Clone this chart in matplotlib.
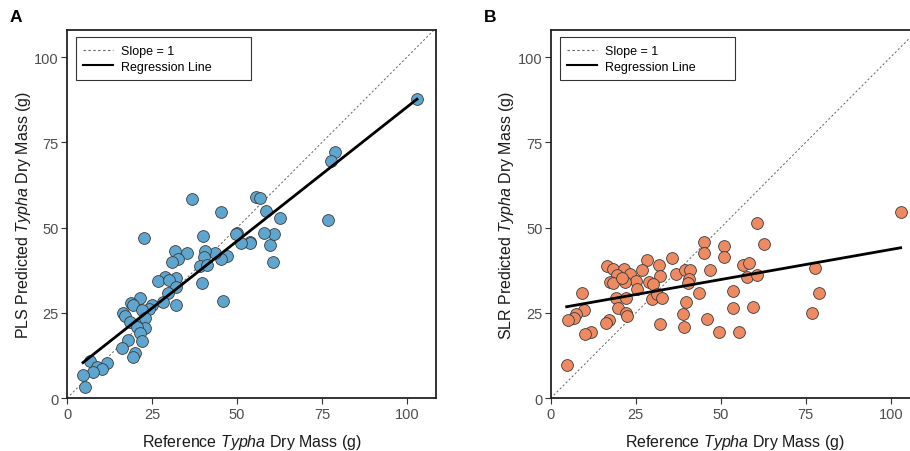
import matplotlib
matplotlib.use("Agg")
import matplotlib.pyplot as plt
import numpy as np
from matplotlib.lines import Line2D

plt.rcParams['font.family'] = ['Liberation Sans', 'DejaVu Sans']
plt.rcParams['mathtext.fontset'] = 'custom'
plt.rcParams['mathtext.rm'] = 'Liberation Sans'
plt.rcParams['mathtext.it'] = 'Liberation Sans:italic'

# ---- Panel A (PLS) data ----
pls_ref = [102.9, 78.8, 77.7, 76.8, 62.7, 60.5, 59.6, 60.8, 57.8, 58.4, 55.7, 56.7,
           53.7, 53.9, 51.3, 50.1, 49.8, 47.1, 45.4, 43.5, 45.9, 45.4, 39.9, 40.7,
           40.3, 39.0, 41.1, 39.7, 36.8, 35.4, 31.7, 32.6, 30.9, 32.0, 28.9, 26.7,
           30.0, 32.0, 29.7, 28.2, 32.0, 25.0, 24.0, 22.7, 21.4, 18.8, 19.5, 22.1,
           16.5, 17.2, 18.4, 21.9, 23.0, 23.0, 20.7, 21.4, 22.1, 17.9, 16.2, 19.9,
           19.4, 6.7, 11.9, 8.9, 10.3, 7.6, 4.7, 5.2]
pls_pred = [87.7, 72.3, 69.6, 52.3, 52.8, 39.9, 44.8, 48.0, 48.4, 55.0, 59.1, 58.6,
            45.9, 45.5, 45.5, 48.5, 48.0, 41.8, 40.9, 42.6, 28.6, 54.5, 47.5, 43.3,
            41.3, 38.9, 39.1, 33.7, 58.3, 42.6, 43.3, 40.9, 39.9, 35.2, 35.6, 34.5,
            34.6, 32.5, 30.8, 28.1, 27.4, 27.4, 26.2, 47.0, 29.3, 28.0, 27.4, 26.0,
            25.0, 24.2, 22.5, 22.3, 23.5, 20.5, 20.8, 19.1, 16.9, 17.1, 14.8, 13.3,
            12.0, 11.0, 10.3, 9.1, 8.6, 7.6, 6.8, 3.4]
pls_fit = (6.77, 0.786)  # intercept, slope

# ---- Panel B (SLR) data ----
slr_ref = [102.9, 60.7, 62.8, 45.2, 45.2, 51.1, 51.0, 35.6, 28.2, 16.5, 26.8, 31.9,
           18.4, 21.6, 23.3, 19.6, 32.1, 36.8, 39.5, 41.0, 46.9, 40.7, 40.5, 56.5,
           58.4, 57.6, 60.6, 77.7, 79.0, 76.8, 53.7, 53.7, 59.4, 55.5, 49.6, 45.9,
           43.5, 39.9, 38.8, 39.2, 32.1, 25.1, 25.3, 28.8, 30.2, 29.7, 31.2, 32.6,
           17.4, 18.2, 21.9, 21.0, 19.1, 22.1, 19.9, 22.1, 22.4, 9.3, 9.9, 7.4,
           6.9, 5.2, 17.2, 16.3, 11.9, 10.1, 4.7]
slr_pred = [54.7, 51.4, 45.2, 45.9, 42.6, 44.5, 41.4, 41.2, 40.6, 38.9, 37.7, 39.2,
            37.9, 37.9, 36.5, 36.2, 35.8, 36.5, 37.7, 37.6, 37.6, 35.0, 33.7, 39.0,
            39.6, 35.5, 36.0, 38.1, 30.8, 24.9, 31.5, 26.4, 26.7, 19.4, 19.4, 23.3,
            30.9, 28.2, 24.7, 20.8, 21.8, 34.5, 32.1, 34.2, 33.5, 29.1, 30.6, 29.4,
            34.0, 33.8, 34.0, 35.2, 29.4, 29.4, 26.5, 25.0, 24.2, 30.8, 26.0, 24.7,
            23.5, 22.8, 23.0, 22.1, 19.4, 18.7, 9.9]
slr_fit = (26.0, 0.176)

ticks = [0, 25, 50, 75, 100]
tick_labels = ["0", "25", "50", "75", "100"]

W, H = 910, 452
fig = plt.figure(figsize=(W / 100, H / 100), dpi=100)

axw = 369 / W
axh = 368.6 / H
bot = (H - 399.3) / H
axA = fig.add_axes([67 / W, bot, axw, axh])
axB = fig.add_axes([550.7 / W, bot, axw, axh])

panels = [
    (axA, pls_ref, pls_pred, pls_fit, '#5ea6cf', 'PLS', 'A', 10),
    (axB, slr_ref, slr_pred, slr_fit, '#ee8a62', 'SLR', 'B', 484),
]

for ax, xr, yp, fit, col, name, letter, lx in panels:
    ax.set_xlim(0, 108.5)
    ax.set_ylim(0, 108)
    xx = np.array([0, 110])
    ax.plot(xx, xx, ls=(0, (2.2, 2.2)), color='#666666', lw=0.7, zorder=1)
    ax.scatter(xr, yp, s=72, facecolor=col, edgecolor='#3a3a3a', linewidths=0.6, zorder=3)
    x0, x1 = min(xr), max(xr)
    fx = np.array([x0, x1])
    ax.plot(fx, fit[0] + fit[1] * fx, color='black', lw=2.0, zorder=4)
    ax.set_xticks(ticks)
    ax.set_xticklabels(tick_labels)
    ax.set_yticks(ticks)
    ax.set_yticklabels(tick_labels)
    ax.tick_params(direction='out', length=4, width=0.8, color='#333333',
                   labelcolor='#4d4d4d', labelsize=10.5, pad=2)
    for sp in ax.spines.values():
        sp.set_linewidth(1.3)
        sp.set_color('#222222')
    ax.set_xlabel(r'Reference $\it{Typha}$ Dry Mass (g)', fontsize=11.5,
                  color='#1a1a1a', labelpad=8)
    ax.set_ylabel(name + r' Predicted $\it{Typha}$ Dry Mass (g)', fontsize=11.5,
                  color='#1a1a1a', labelpad=1)
    handles = [Line2D([], [], ls=(0, (2.2, 2.2)), color='#666666', lw=0.8),
               Line2D([], [], color='black', lw=1.5)]
    leg = ax.legend(handles, ['Slope = 1', 'Regression Line'], loc='upper left',
                    bbox_to_anchor=(0.024, 0.979, 0.475, 0.0), mode='expand',
                    fontsize=9, frameon=True, fancybox=False, handlelength=2.4,
                    handletextpad=0.6, labelspacing=0.3, borderaxespad=0,
                    borderpad=0.6)
    leg.get_frame().set_edgecolor('black')
    leg.get_frame().set_linewidth(0.8)
    fig.text(lx / W, 1 - 18 / H, letter, fontsize=12.5, fontweight='bold',
             ha='left', va='center')

fig.savefig('out.png', dpi=100)
